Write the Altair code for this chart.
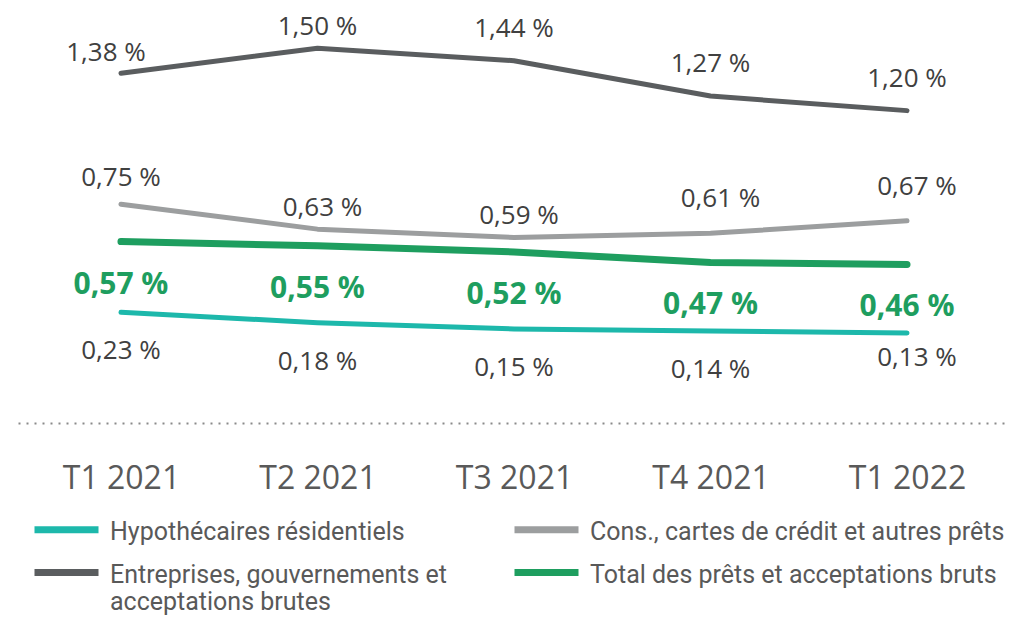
import altair as alt
import pandas as pd

quarters = ["T1 2021", "T2 2021", "T3 2021", "T4 2021", "T1 2022"]
series = [
    "Hypothécaires résidentiels",
    "Cons., cartes de crédit et autres prêts",
    "Entreprises, gouvernements et acceptations brutes",
    "Total des prêts et acceptations bruts",
]
hypothecaires = [0.23, 0.18, 0.15, 0.14, 0.13]
consommation = [0.75, 0.63, 0.59, 0.61, 0.67]
entreprises = [1.38, 1.50, 1.44, 1.27, 1.20]
total = [0.57, 0.55, 0.52, 0.47, 0.46]
colors = ["#1DB8AB", "#9C9E9F", "#5A5D5F", "#1E9E5F"]

rows = []
for name, vals in zip(series, [hypothecaires, consommation, entreprises, total]):
    for q, v in zip(quarters, vals):
        rows.append({"quarter": q, "series": name, "value": v,
                     "label": f"{v:.2f}".replace(".", ",") + " %"})
df = pd.DataFrame(rows)

x = alt.X("quarter:N", sort=quarters,
          scale=alt.Scale(type="point", padding=0.524),
          axis=alt.Axis(title=None, ticks=False, grid=False, labelAngle=0,
                        labelPadding=40, labelFont="Open Sans", labelFontSize=32,
                        labelColor="#595959", domainDash=[2, 6], domainWidth=2,
                        domainColor="#8a8a8a"))
y = alt.Y("value:Q", scale=alt.Scale(domain=[-0.3025, 1.6936], nice=False, zero=False),
          axis=None)
color = alt.Color(
    "series:N",
    scale=alt.Scale(domain=series, range=colors),
    legend=alt.Legend(
        title=None, orient="none", legendX=13, legendY=496, columns=2,
        direction="horizontal",
        symbolType="M-1,-0.31L1,-0.31", symbolSize=4096, symbolStrokeWidth=7,
        labelFont="Roboto", labelFontSize=25, labelColor="#595959",
        labelBaseline="alphabetic", labelOffset=8, labelLimit=700,
        columnPadding=53, rowPadding=2,
        labelExpr="datum.label == 'Entreprises, gouvernements et acceptations brutes' ? ['Entreprises, gouvernements et', 'acceptations brutes'] : datum.label",
    ),
)

base = alt.Chart(df)
thin = base.transform_filter(alt.datum.series != series[3]).mark_line(
    strokeWidth=5, strokeCap="round", strokeJoin="round").encode(x=x, y=y, color=color)
thick = base.transform_filter(alt.datum.series == series[3]).mark_line(
    strokeWidth=7, strokeCap="round", strokeJoin="round").encode(x=x, y=y, color=color)


def labels(name, qs, dx, dy, size=26, weight="normal", col="#404040"):
    return (base.transform_filter(alt.datum.series == name)
            .transform_filter(alt.FieldOneOfPredicate(field="quarter", oneOf=qs))
            .mark_text(dx=dx, dy=dy, font="Open Sans", fontSize=size, fontWeight=weight,
                       color=col, baseline="middle")
            .encode(x=x, y=y, text="label:N"))


green = "#1E9E5F"
chart = alt.layer(
    thin, thick,
    labels(series[2], quarters[0:1], -15, -20),
    labels(series[2], quarters[1:2], 0, -21),
    labels(series[2], quarters[2:], 0, -32),
    labels(series[1], quarters[0:1], 0, -26),
    labels(series[1], quarters[1:3], 5, -21),
    labels(series[1], quarters[3:], 10, -34),
    labels(series[3], quarters, 0, 43, 30, "bold", green),
    labels(series[0], quarters[0:4], 0, 39),
    labels(series[0], quarters[4:], 10, 25),
).properties(
    width=992, height=415,
    padding={"left": 10, "top": 0, "right": 15, "bottom": 198},
    autosize=alt.AutoSizeParams(type="none"),
).configure_view(stroke=None)

chart.save("out.html", embed_options={"renderer": "svg", "actions": False})
